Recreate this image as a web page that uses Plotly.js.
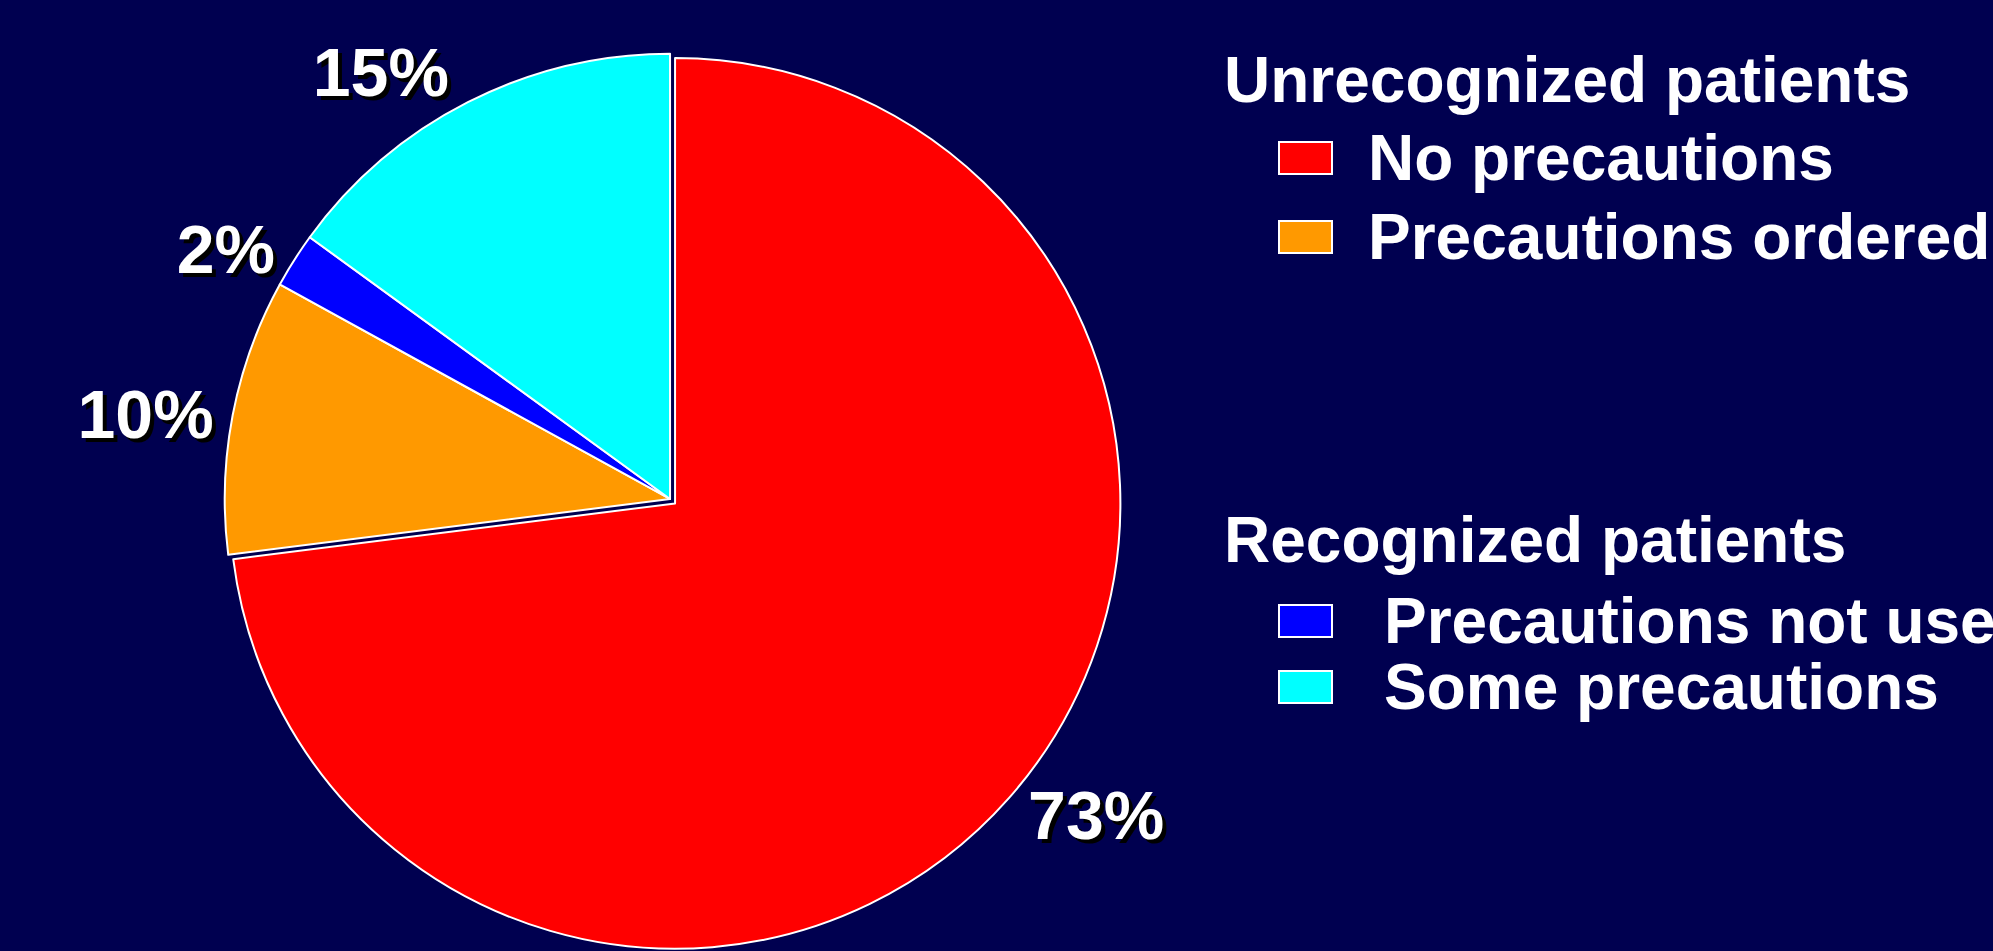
<!DOCTYPE html>
<html>
<head>
<meta charset="utf-8">
<script src="https://cdn.plot.ly/plotly-3.0.1.min.js"></script>
<style>
  html, body { margin: 0; padding: 0; background: #000050; overflow: hidden; }
  #chart { width: 1993px; height: 951px; }
</style>
</head>
<body>
<div id="chart"></div>
<script>
// ---- data ----
const categories = ['No precautions', 'Precautions ordered', 'Precautions not used', 'Some precautions'];
const values = [73, 10, 2, 15];
const sliceColors = ['#FF0000', '#FF9900', '#0000FF', '#00FFFF'];
const pulls = [0.015, 0, 0, 0];
const groupTitles = ['Unrecognized patients', 'Recognized patients'];
const groupMembers = [[0, 1], [2, 3]];

// ---- style ----
const W = 1993, H = 951;
const FONT = 'Liberation Sans, Arial, Helvetica, sans-serif';
const BG = '#000050';

const px = x => x / W;
const py = y => 1 - y / H;

const labelFont = { family: FONT, size: 68, color: '#FFFFFF', weight: 700, shadow: '4px 4px 0px #000000' };

const pie = {
  type: 'pie',
  labels: categories,
  values: values,
  sort: false,
  direction: 'clockwise',
  rotation: 0,
  pull: pulls,
  marker: { colors: sliceColors, line: { color: '#FFFFFF', width: 2 } },
  texttemplate: '%{value}%',
  textposition: 'outside',
  textfont: labelFont,
  outsidetextfont: labelFont,
  domain: { x: [0.05, 0.6224], y: [0, 0.9506] },
  hoverinfo: 'label+percent',
  showlegend: false,
  automargin: false
};

// custom legend (layout positions)
const annotations = [];
const shapes = [];
const groupTitleY = [80, 540];
const itemY = [[158, 237], [621, 687]];
const itemTextX = [1366, 1382];
groupTitles.forEach((g, gi) => {
  annotations.push({
    xref: 'paper', yref: 'paper', x: px(1222), y: py(groupTitleY[gi]),
    xanchor: 'left', yanchor: 'middle', showarrow: false, text: g,
    font: { family: FONT, size: 64, color: '#FFFFFF', weight: 700 }
  });
  groupMembers[gi].forEach((ci, k) => {
    const yc = itemY[gi][k];
    shapes.push({
      type: 'rect', xref: 'paper', yref: 'paper',
      x0: px(1279), x1: px(1332), y0: py(yc - 16), y1: py(yc + 16),
      fillcolor: sliceColors[ci], line: { color: '#FFFFFF', width: 2 }
    });
    annotations.push({
      xref: 'paper', yref: 'paper', x: px(itemTextX[gi]), y: py(yc),
      xanchor: 'left', yanchor: 'middle', showarrow: false, text: categories[ci],
      font: { family: FONT, size: 64, color: '#FFFFFF', weight: 700 }
    });
  });
});

const layout = {
  width: W, height: H,
  margin: { l: 0, r: 0, t: 0, b: 0 },
  paper_bgcolor: BG,
  plot_bgcolor: BG,
  showlegend: false,
  annotations: annotations,
  shapes: shapes
};

Plotly.newPlot('chart', [pie], layout, { displayModeBar: false, staticPlot: true });
</script>
</body>
</html>
